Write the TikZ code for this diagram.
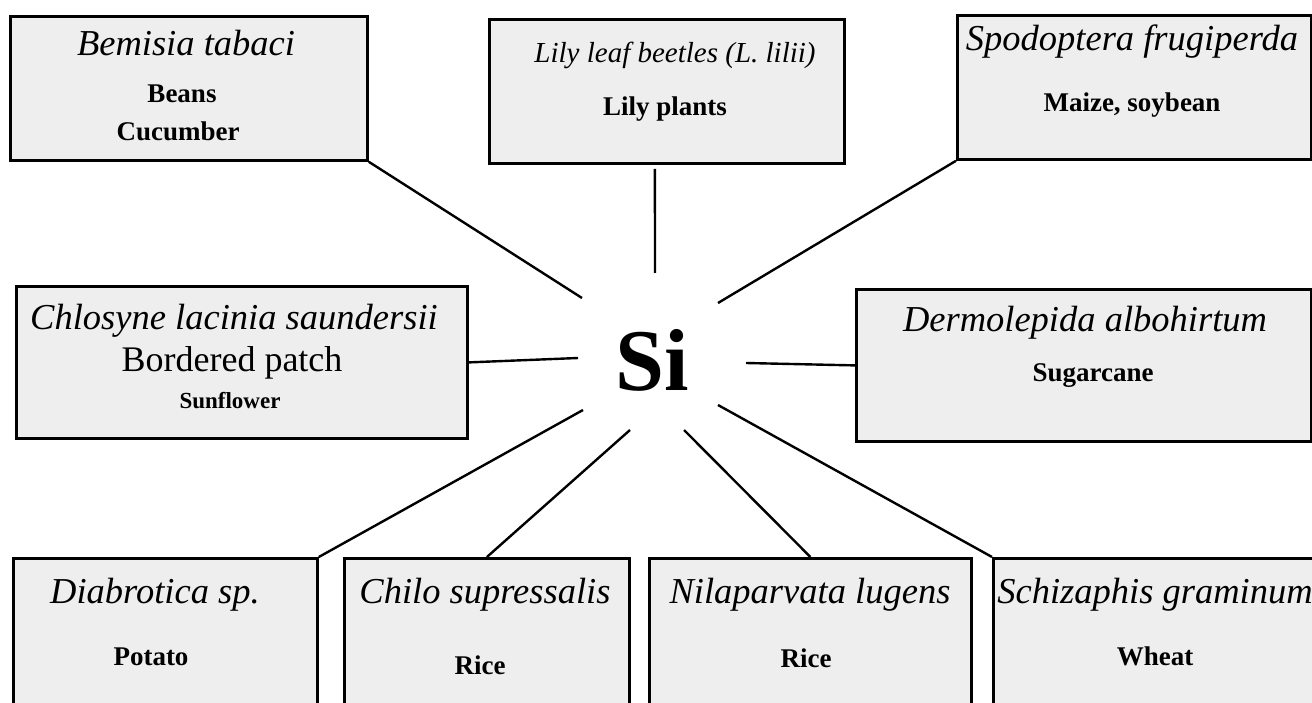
\documentclass[tikz,border=0pt]{standalone}
\usepackage{fontspec}
\setmainfont{Liberation Serif}
\usetikzlibrary{positioning}
\definecolor{boxgray}{RGB}{238,238,238}
\tikzset{
    pestbox/.style={draw, line width=2.8pt, fill=boxgray, anchor=north west, inner sep=0pt},
    pest/.style={font=\fontsize{36.5}{42}\selectfont\itshape, inner sep=0pt},
    host/.style={font=\fontsize{27}{32}\selectfont\bfseries, inner sep=0pt},
}

\begin{document}
\begin{tikzpicture}[x=1pt,y=-1pt]
    \clip (0,0) rectangle (1312,703);
    \fill[white] (0,0) rectangle (1312,703);
    \begin{scope}[every node/.style={pestbox}]
        \node[minimum width=357pt, minimum height=144pt] (bemisia) at (9,15) {};
        \node[minimum width=355pt, minimum height=144pt] (lily) at (488,18) {};
        \node[minimum width=354pt, minimum height=144pt] (spodo) at (956,14) {};
        \node[minimum width=451pt, minimum height=152pt] (chlosyne) at (15,285) {};
        \node[minimum width=455pt, minimum height=152pt] (dermo) at (855,288) {};
        \node[minimum width=304pt, minimum height=170pt] (diabro) at (12,557) {};
        \node[minimum width=285pt, minimum height=170pt] (chilo) at (343,557) {};
        \node[minimum width=322pt, minimum height=170pt] (nila) at (648,557) {};
        \node[minimum width=340pt, minimum height=170pt] (schiz) at (992,557) {};
    \end{scope}
    %Labels
    \node[pest] (bemisiaName) at (186,43) {Bemisia tabaci};
    \node[host] (beans) at (182,94) {Beans};
    \node[host] (cucumber) at (178,131) {Cucumber};
    \node[pest, font=\fontsize{29}{34}\selectfont\itshape] (lilyName) at (675,55) {Lily leaf beetles (L. lilii)};
    \node[host] (lilyHost) at (665,109) {Lily plants};
    \node[pest] (spodoName) at (1132,42) {Spodoptera frugiperda};
    \node[host] (maize) at (1132,105) {Maize, soybean};
    \node[pest] (chlosyneName) at (234,321) {Chlosyne lacinia saundersii};
    \node[font=\fontsize{36}{42}\selectfont, inner sep=0pt] (bordered) at (232,363) {Bordered patch};
    \node[host, font=\fontsize{23}{27}\selectfont\bfseries] (sunflower) at (230,401) {Sunflower};
    \node[pest] (dermoName) at (1085,323) {Dermolepida albohirtum};
    \node[host] (sugarcane) at (1093,376) {Sugarcane};
    \node[pest] (diabroName) at (155,595) {Diabrotica sp.};
    \node[host] (potato) at (151,657) {Potato};
    \node[pest] (chiloName) at (485,595) {Chilo supressalis};
    \node[host] (rice1) at (480,665) {Rice};
    \node[pest] (nilaName) at (810,595) {Nilaparvata lugens};
    \node[host] (rice2) at (806,658) {Rice};
    \node[pest] (schizName) at (1155,595) {Schizaphis graminum};
    \node[host] (wheat) at (1155,656) {Wheat};
    \node[font=\fontsize{88}{90}\selectfont\bfseries, inner sep=0pt] (si) at (652,360) {Si};
    %Ends near Si
    \coordinate (e1) at (582,298);
    \coordinate (e2) at (655,273);
    \coordinate (e3) at (718,303);
    \coordinate (e4) at (578,358);
    \coordinate (e5) at (746,363);
    \coordinate (e6) at (583,410);
    \coordinate (e7) at (630,430);
    \coordinate (e8) at (684,430);
    \coordinate (e9) at (718,405);
    %Lines
    \draw[line width=2.4pt]   (bemisia.south east) -- (e1)
            ([xshift=-12pt, yshift=-4pt]lily.south) -- (e2)
            (spodo.south west) -- (e3)
            (chlosyne.east) -- (e4)
            (dermo.west) -- (e5)
            (diabro.north east) -- (e6)
            (chilo.north) -- (e7)
            (nila.north) -- (e8)
            (schiz.north west) -- (e9);
\end{tikzpicture}
\end{document}
